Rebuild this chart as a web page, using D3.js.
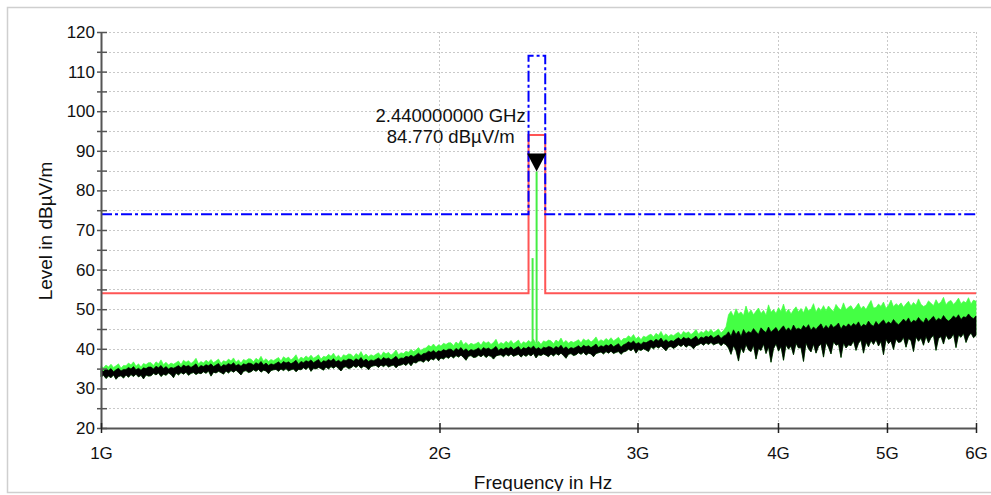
<!DOCTYPE html>
<html>
<head>
<meta charset="utf-8">
<script src="https://cdn.jsdelivr.net/npm/d3@7"></script>
<style>
  html, body { margin: 0; padding: 0; background: #fff; }
  svg { display: block; font-family: "Liberation Sans", Arial, Helvetica, sans-serif; }
</style>
</head>
<body>
<svg id="chart" width="991" height="495"></svg>
<script>
// Sweep: 351 log-spaced points from 1 GHz to 6 GHz
const sweepStartHz = 1e9;
const sweepStopHz = 6e9;

// Peak trace (green), upper envelope per sweep point, dBµV/m
const greenHi = [
  35.6, 35.2, 35.9, 35.4, 36.1, 35.3, 35.7, 36.2, 35.1, 35.8,
  35.7, 36.4, 35.9, 36.7, 35.6, 36.2, 35.4, 36.3, 36.0, 36.5,
  36.5, 35.8, 36.7, 36.2, 37.2, 36.0, 36.6, 35.9, 36.4, 36.1,
  36.5, 36.9, 36.0, 37.1, 36.6, 37.0, 36.3, 36.8, 37.6, 36.2,
  36.8, 36.4, 37.1, 36.6, 37.3, 36.5, 36.9, 37.4, 36.3, 37.0,
  36.7, 37.4, 36.9, 37.7, 36.6, 37.2, 36.4, 37.3, 37.0, 37.5,
  37.4, 36.7, 37.6, 37.1, 38.1, 36.9, 37.5, 36.8, 37.3, 37.0,
  37.4, 37.8, 36.9, 38.0, 37.5, 37.9, 37.2, 37.7, 38.5, 37.1,
  37.9, 37.5, 38.2, 37.7, 38.4, 37.6, 38.0, 38.5, 37.4, 38.1,
  37.9, 38.6, 38.1, 38.9, 37.8, 38.4, 37.6, 38.5, 38.2, 38.7,
  38.6, 37.9, 38.8, 38.3, 39.3, 38.1, 38.7, 38.0, 38.5, 38.2,
  38.6, 39.0, 38.2, 39.2, 38.7, 39.1, 38.4, 38.9, 39.7, 38.5,
  39.0, 38.8, 39.4, 39.1, 39.8, 39.3, 39.7, 40.3, 39.5, 40.1,
  40.2, 40.9, 40.5, 41.2, 40.4, 41.0, 40.7, 41.4, 41.1, 41.5,
  41.5, 40.8, 41.7, 41.2, 42.2, 41.0, 41.6, 40.9, 41.4, 41.1,
  41.3, 41.7, 40.9, 41.9, 41.4, 41.8, 41.1, 41.6, 42.4, 41.0,
  41.6, 41.2, 41.9, 41.4, 42.1, 41.3, 41.7, 42.2, 41.1, 41.8,
  41.4, 42.1, 41.6, 42.4, 41.3, 41.9, 41.1, 42.0, 41.7, 42.2,
  42.0, 41.3, 42.2, 41.7, 42.7, 41.5, 42.1, 41.4, 41.9, 41.6,
  41.9, 42.3, 41.5, 42.5, 42.0, 42.4, 41.7, 42.2, 43.0, 41.8,
  42.3, 41.9, 42.6, 42.1, 42.8, 42.0, 42.4, 42.9, 41.9, 42.6,
  42.6, 43.3, 42.8, 43.6, 42.5, 43.1, 42.3, 43.2, 42.9, 43.4,
  43.7, 43.0, 43.9, 43.4, 44.4, 43.2, 43.8, 43.1, 43.6, 43.3,
  43.8, 44.2, 43.4, 44.4, 43.9, 44.3, 43.6, 44.1, 44.9, 43.7,
  44.4, 44.0, 44.7, 44.2, 44.9, 44.1, 44.5, 45.0, 44.0, 44.6,
  45.5, 48.6, 49.5, 48.2, 50.1, 48.8, 49.3, 48.4, 50.8, 48.9,
  49.8, 48.6, 49.5, 50.3, 48.9, 49.7, 48.5, 51.1, 49.2, 49.9,
  48.9, 50.4, 49.4, 51.3, 49.1, 50.0, 48.8, 49.8, 50.6, 49.3,
  50.2, 49.1, 50.7, 49.6, 50.0, 51.4, 49.3, 50.4, 49.7, 50.9,
  49.6, 50.8, 50.0, 49.4, 51.2, 50.3, 49.8, 51.6, 49.9, 50.5,
  50.9, 49.8, 50.6, 51.5, 50.1, 50.8, 49.9, 51.1, 52.2, 50.3,
  50.4, 51.3, 50.7, 51.8, 50.2, 51.0, 52.3, 50.6, 51.4, 50.9,
  51.6, 50.5, 51.3, 52.0, 50.8, 51.7, 51.0, 52.6, 51.2, 50.7,
  51.0, 52.1, 51.5, 50.9, 52.4, 51.3, 51.8, 53.0, 51.1, 51.9,
  52.2, 51.2, 51.9, 52.8, 51.4, 52.0, 51.6, 52.9, 51.3, 52.3,
  52.0
];

// Average trace (black), upper envelope per sweep point
const blackHi = [
  34.6, 34.3, 34.9, 34.5, 35.0, 34.2, 34.7, 35.1, 34.4, 34.8,
  34.8, 35.3, 34.9, 35.5, 34.7, 35.1, 34.6, 35.2, 35.0, 35.4,
  35.4, 34.9, 35.6, 35.2, 35.8, 35.0, 35.5, 34.9, 35.3, 35.1,
  35.4, 35.8, 35.2, 35.9, 35.5, 35.8, 35.3, 35.7, 36.2, 35.2,
  35.8, 35.5, 36.0, 35.7, 36.2, 35.5, 35.9, 36.3, 35.4, 36.0,
  35.8, 36.3, 35.9, 36.5, 35.7, 36.1, 35.6, 36.2, 36.0, 36.4,
  36.3, 35.9, 36.5, 36.1, 36.8, 35.9, 36.4, 35.8, 36.2, 36.0,
  36.3, 36.7, 36.1, 36.8, 36.4, 36.7, 36.2, 36.6, 37.1, 36.1,
  36.8, 36.5, 37.0, 36.7, 37.2, 36.5, 36.9, 37.3, 36.4, 37.0,
  36.8, 37.3, 36.9, 37.5, 36.7, 37.1, 36.6, 37.2, 37.0, 37.4,
  37.3, 36.9, 37.5, 37.1, 37.8, 36.9, 37.4, 36.8, 37.2, 37.0,
  37.3, 37.7, 37.1, 37.8, 37.4, 37.7, 37.2, 37.6, 38.1, 37.3,
  37.7, 37.6, 38.1, 37.9, 38.4, 38.0, 38.4, 38.9, 38.3, 38.8,
  38.9, 39.4, 39.1, 39.6, 39.0, 39.5, 39.3, 39.8, 39.5, 39.9,
  39.9, 39.4, 40.1, 39.7, 40.3, 39.5, 40.0, 39.4, 39.8, 39.6,
  39.8, 40.2, 39.6, 40.3, 39.9, 40.2, 39.7, 40.1, 40.6, 39.6,
  40.1, 39.8, 40.3, 40.0, 40.5, 39.8, 40.2, 40.6, 39.7, 40.3,
  40.0, 40.5, 40.1, 40.7, 39.9, 40.3, 39.8, 40.4, 40.2, 40.6,
  40.4, 40.0, 40.6, 40.2, 40.9, 40.0, 40.5, 39.9, 40.3, 40.1,
  40.4, 40.8, 40.2, 40.9, 40.5, 40.8, 40.3, 40.7, 41.2, 40.3,
  40.8, 40.5, 41.0, 40.7, 41.2, 40.5, 40.9, 41.3, 40.4, 41.0,
  41.3, 41.8, 41.4, 42.0, 41.2, 41.6, 41.1, 41.7, 41.5, 41.9,
  42.2, 41.8, 42.4, 42.0, 42.7, 41.8, 42.3, 41.7, 42.1, 41.9,
  42.4, 42.8, 42.2, 42.9, 42.5, 42.8, 42.3, 42.7, 43.2, 42.3,
  43.0, 42.7, 43.2, 42.9, 43.4, 42.7, 43.1, 43.5, 42.6, 43.2,
  43.5, 44.3, 43.2, 44.8, 43.6, 44.5, 43.1, 44.9, 43.8, 44.4,
  44.0, 45.1, 44.3, 43.7, 45.3, 44.6, 44.1, 45.5, 44.2, 44.8,
  45.4, 44.3, 45.1, 45.8, 44.6, 45.3, 44.5, 46.0, 44.9, 45.2,
  44.8, 45.9, 45.2, 46.1, 44.7, 45.5, 44.9, 45.7, 46.3, 45.0,
  45.9, 45.1, 46.2, 45.4, 45.8, 46.5, 45.0, 46.0, 45.5, 46.3,
  45.6, 46.4, 45.9, 46.8, 45.5, 46.2, 45.8, 47.0, 46.1, 45.7,
  46.9, 46.0, 46.7, 47.3, 46.2, 46.8, 46.3, 47.4, 46.6, 46.1,
  46.7, 47.5, 46.8, 47.8, 46.5, 47.2, 46.9, 47.9, 47.1, 46.6,
  47.8, 46.9, 47.6, 48.2, 47.1, 47.7, 47.3, 48.4, 47.5, 47.0,
  47.5, 48.3, 47.7, 48.6, 47.4, 48.1, 47.9, 48.8, 48.0, 47.6,
  48.3
];

// Average trace (black), lower envelope per sweep point
const blackLo = [
  32.9, 33.3, 32.5, 33.1, 32.7, 33.4, 32.3, 33.0, 33.2, 32.6,
  33.4, 32.8, 33.5, 33.0, 33.6, 32.9, 33.3, 32.4, 33.4, 33.1,
  33.2, 33.8, 33.4, 33.9, 33.0, 33.6, 33.3, 33.9, 33.5, 32.7,
  33.9, 33.4, 34.0, 33.6, 34.1, 33.3, 33.8, 34.0, 33.5, 33.9,
  33.7, 34.2, 33.8, 34.4, 33.1, 34.1, 33.9, 34.3, 34.0, 33.6,
  34.4, 33.9, 34.5, 34.1, 34.6, 34.0, 33.4, 34.3, 34.5, 34.0,
  34.2, 34.7, 34.3, 34.8, 34.1, 34.6, 34.4, 33.7, 34.5, 34.7,
  34.8, 34.3, 34.9, 34.5, 35.0, 34.4, 34.7, 34.9, 34.2, 34.8,
  34.7, 35.2, 34.8, 35.4, 34.3, 35.1, 34.9, 35.3, 35.0, 34.6,
  35.4, 34.9, 35.5, 35.1, 35.6, 35.0, 34.4, 35.3, 35.5, 35.0,
  35.2, 35.7, 35.3, 35.8, 35.1, 35.6, 35.4, 34.7, 35.5, 35.7,
  35.8, 35.3, 35.9, 35.5, 36.0, 35.4, 35.7, 35.9, 35.2, 35.8,
  35.9, 36.2, 35.8, 36.5, 35.7, 36.6, 36.4, 36.9, 37.0, 36.6,
  37.3, 36.8, 37.5, 37.2, 37.8, 37.0, 37.7, 37.4, 38.0, 37.6,
  38.2, 37.7, 38.3, 37.9, 38.4, 37.8, 37.1, 38.1, 38.3, 37.8,
  37.9, 38.4, 38.0, 38.5, 37.8, 38.3, 38.1, 37.4, 38.2, 38.4,
  38.5, 38.0, 38.6, 38.2, 38.7, 38.1, 38.4, 38.6, 37.9, 38.5,
  38.1, 38.6, 38.2, 38.8, 37.7, 38.5, 38.3, 38.7, 38.4, 38.0,
  38.7, 38.2, 38.8, 38.4, 38.9, 38.3, 37.6, 38.6, 38.8, 38.3,
  38.5, 39.0, 38.6, 39.1, 38.4, 38.9, 38.7, 38.0, 38.8, 39.0,
  39.2, 38.7, 39.3, 38.9, 39.4, 38.8, 39.1, 39.3, 38.6, 39.2,
  39.4, 39.9, 39.5, 40.1, 38.9, 39.8, 39.6, 40.0, 39.7, 39.3,
  40.5, 40.0, 40.6, 40.2, 40.7, 40.1, 39.5, 40.4, 40.6, 40.1,
  40.5, 41.0, 40.6, 41.1, 40.4, 40.9, 40.7, 40.0, 40.8, 41.0,
  41.4, 40.9, 41.5, 41.1, 41.6, 41.0, 41.3, 41.5, 40.8, 41.4,
  41.0, 40.2, 38.6, 40.8, 39.5, 36.9, 40.3, 39.0, 41.1, 39.7,
  39.3, 40.9, 37.4, 40.1, 39.6, 41.2, 38.8, 40.5, 36.6, 40.0,
  41.3, 39.4, 40.6, 37.1, 41.0, 39.9, 40.7, 38.5, 41.4, 40.2,
  40.3, 36.8, 41.5, 40.0, 39.2, 41.2, 38.9, 40.6, 41.3, 37.9,
  41.6, 40.4, 38.7, 41.8, 40.9, 41.2, 37.8, 41.5, 40.2, 41.0,
  40.8, 42.0, 39.6, 41.4, 42.2, 38.9, 41.7, 40.5, 42.1, 41.1,
  42.3, 40.7, 41.9, 38.5, 42.4, 41.3, 42.0, 39.8, 42.5, 41.6,
  41.8, 42.9, 40.4, 42.6, 42.1, 39.3, 43.0, 41.9, 42.7, 40.9,
  43.2, 41.5, 42.8, 43.4, 39.6, 42.6, 43.1, 41.2, 43.5, 42.4,
  42.7, 43.8, 40.3, 43.5, 42.9, 43.9, 41.6, 43.2, 44.0, 42.8,
  43.4
];

// Narrowband emissions in the peak trace
const emissionFreqHz = [2.420e9, 2.440e9];
const emissionLevel = [62.9, 84.77];
const emissionBase = 41.5;

// Limit lines (band edges 2.4 - 2.4835 GHz)
const limitFreqHz = [1e9, 2.4e9, 2.4e9, 2.4835e9, 2.4835e9, 6e9];
const avgLimit = [54, 54, 94, 94, 54, 54];
const peakLimit = [74, 74, 114, 114, 74, 74];

// Marker
const markerFreqHz = 2.44e9;
const markerLevel = 84.77;
const markerLines = ["2.440000000 GHz", "84.770 dBµV/m"];

// Axes
const xTickValues = [1e9, 2e9, 3e9, 4e9, 5e9, 6e9];
const xTickLabels = ["1G", "2G", "3G", "4G", "5G", "6G"];
const yTickValues = d3.range(20, 121, 5);
const yDomain = [20, 120];

const svg = d3.select("#chart");
const W = 991, H = 495;
const m = { left: 101, right: 15, top: 32, bottom: 67 };

const x = d3.scaleLog().domain([sweepStartHz, sweepStopHz]).range([m.left, W - m.right]);
const y = d3.scaleLinear().domain(yDomain).range([H - m.bottom, m.top]);

const sweepPoints = Math.min(greenHi.length, blackHi.length, blackLo.length);
const sweep = d3.range(sweepPoints).map(i =>
  sweepStartHz * Math.pow(sweepStopHz / sweepStartHz, i / (sweepPoints - 1)));

// Frame clip
svg.append("defs").append("clipPath").attr("id", "frame")
  .append("rect").attr("x", 8).attr("y", 8).attr("width", W).attr("height", 483);
const root = svg.append("g").attr("clip-path", "url(#frame)");

// Grid
const grid = root.append("g").attr("stroke", "#c9c9c9").attr("stroke-width", 1)
  .attr("stroke-dasharray", "2,2").attr("fill", "none");
grid.selectAll("line.h").data(yTickValues.filter(v => v > yDomain[0])).join("line")
  .attr("x1", x.range()[0]).attr("x2", x.range()[1])
  .attr("y1", d => Math.round(y(d)) + 0.5).attr("y2", d => Math.round(y(d)) + 0.5);
grid.selectAll("line.v").data(xTickValues.slice(1)).join("line")
  .attr("x1", d => Math.round(x(d)) + 0.5).attr("x2", d => Math.round(x(d)) + 0.5)
  .attr("y1", y.range()[1]).attr("y2", y.range()[0]);

// Traces
const pts = sweep.map((f, i) => ({ f, g: greenHi[i], bh: blackHi[i], bl: blackLo[i] }));
root.append("path").datum(pts)
  .attr("d", d3.area().x(d => x(d.f)).y0(d => y(d.bl)).y1(d => y(d.g)))
  .attr("fill", "#44ff44").attr("stroke", "#44ff44").attr("stroke-width", 0.7);
root.selectAll("line.em").data(emissionFreqHz).join("line")
  .attr("x1", d => x(d)).attr("x2", d => x(d))
  .attr("y1", y(emissionBase)).attr("y2", (d, i) => y(emissionLevel[i]))
  .attr("stroke", "#44ee44").attr("stroke-width", 2);
root.append("path").datum(pts)
  .attr("d", d3.area().x(d => x(d.f)).y0(d => y(d.bl)).y1(d => y(d.bh)))
  .attr("fill", "#000").attr("stroke", "#000").attr("stroke-width", 0.7);

// Limit lines
const limitLine = vals => d3.line().x((d, i) => x(limitFreqHz[i])).y(d => y(d))(vals);
root.append("path").attr("d", limitLine(avgLimit))
  .attr("fill", "none").attr("stroke", "#ff5555").attr("stroke-width", 2);
root.append("path").attr("d", limitLine(peakLimit))
  .attr("fill", "none").attr("stroke", "#0000ff").attr("stroke-width", 2)
  .attr("stroke-dasharray", "11,3,3,3");

// Axes
const axisColor = "#555";
const yAxis = root.append("g").attr("transform", `translate(${m.left},0)`)
  .call(d3.axisLeft(y).tickValues(yTickValues).tickSize(0).tickPadding(6)
    .tickFormat(d => d % 10 === 0 ? d : ""));
yAxis.select(".domain").attr("stroke", axisColor).attr("stroke-width", 2);
yAxis.selectAll(".tick line").attr("x1", -4).attr("x2", 6)
  .attr("stroke", axisColor).attr("stroke-width", 1.5);
yAxis.selectAll(".tick text").attr("font-size", 17).attr("fill", "#111")
  .attr("font-family", "Liberation Sans, Arial, sans-serif");

const xAxis = root.append("g").attr("transform", `translate(0,${y.range()[0]})`)
  .call(d3.axisBottom(x).tickValues(xTickValues).tickSize(0).tickPadding(19)
    .tickFormat((d, i) => xTickLabels[i]));
xAxis.select(".domain").attr("stroke", axisColor).attr("stroke-width", 2);
xAxis.selectAll(".tick line").attr("y1", -5).attr("y2", 5)
  .attr("stroke", "#222").attr("stroke-width", 1.5);
xAxis.selectAll(".tick text").attr("font-size", 17).attr("fill", "#111")
  .attr("font-family", "Liberation Sans, Arial, sans-serif");

// Axis titles
root.append("text").attr("transform", `translate(52,${(y.range()[0] + y.range()[1]) / 2 + 1}) rotate(-90)`)
  .attr("text-anchor", "middle").attr("font-size", 19).attr("fill", "#111")
  .text("Level in dBµV/m");
root.append("text").attr("x", 543).attr("y", 489)
  .attr("text-anchor", "middle").attr("font-size", 19).attr("fill", "#111")
  .text("Frequency in Hz");

// Marker
const mx = x(markerFreqHz), my = y(markerLevel);
root.append("path")
  .attr("d", `M${mx - 9.5},${my - 18}L${mx + 9.5},${my - 18}L${mx},${my}Z`)
  .attr("fill", "#000");
root.selectAll("text.mk").data(markerLines).join("text")
  .attr("x", mx - 86).attr("y", (d, i) => 122 + i * 21)
  .attr("text-anchor", "middle").attr("font-size", 18.5).attr("fill", "#111")
  .text(d => d);

// Outer frame
svg.append("path").attr("d", `M${W},7.5H7.5V492.5H${W}`)
  .attr("fill", "none").attr("stroke", "#cfcfcf").attr("stroke-width", 1.5);
</script>
</body>
</html>
